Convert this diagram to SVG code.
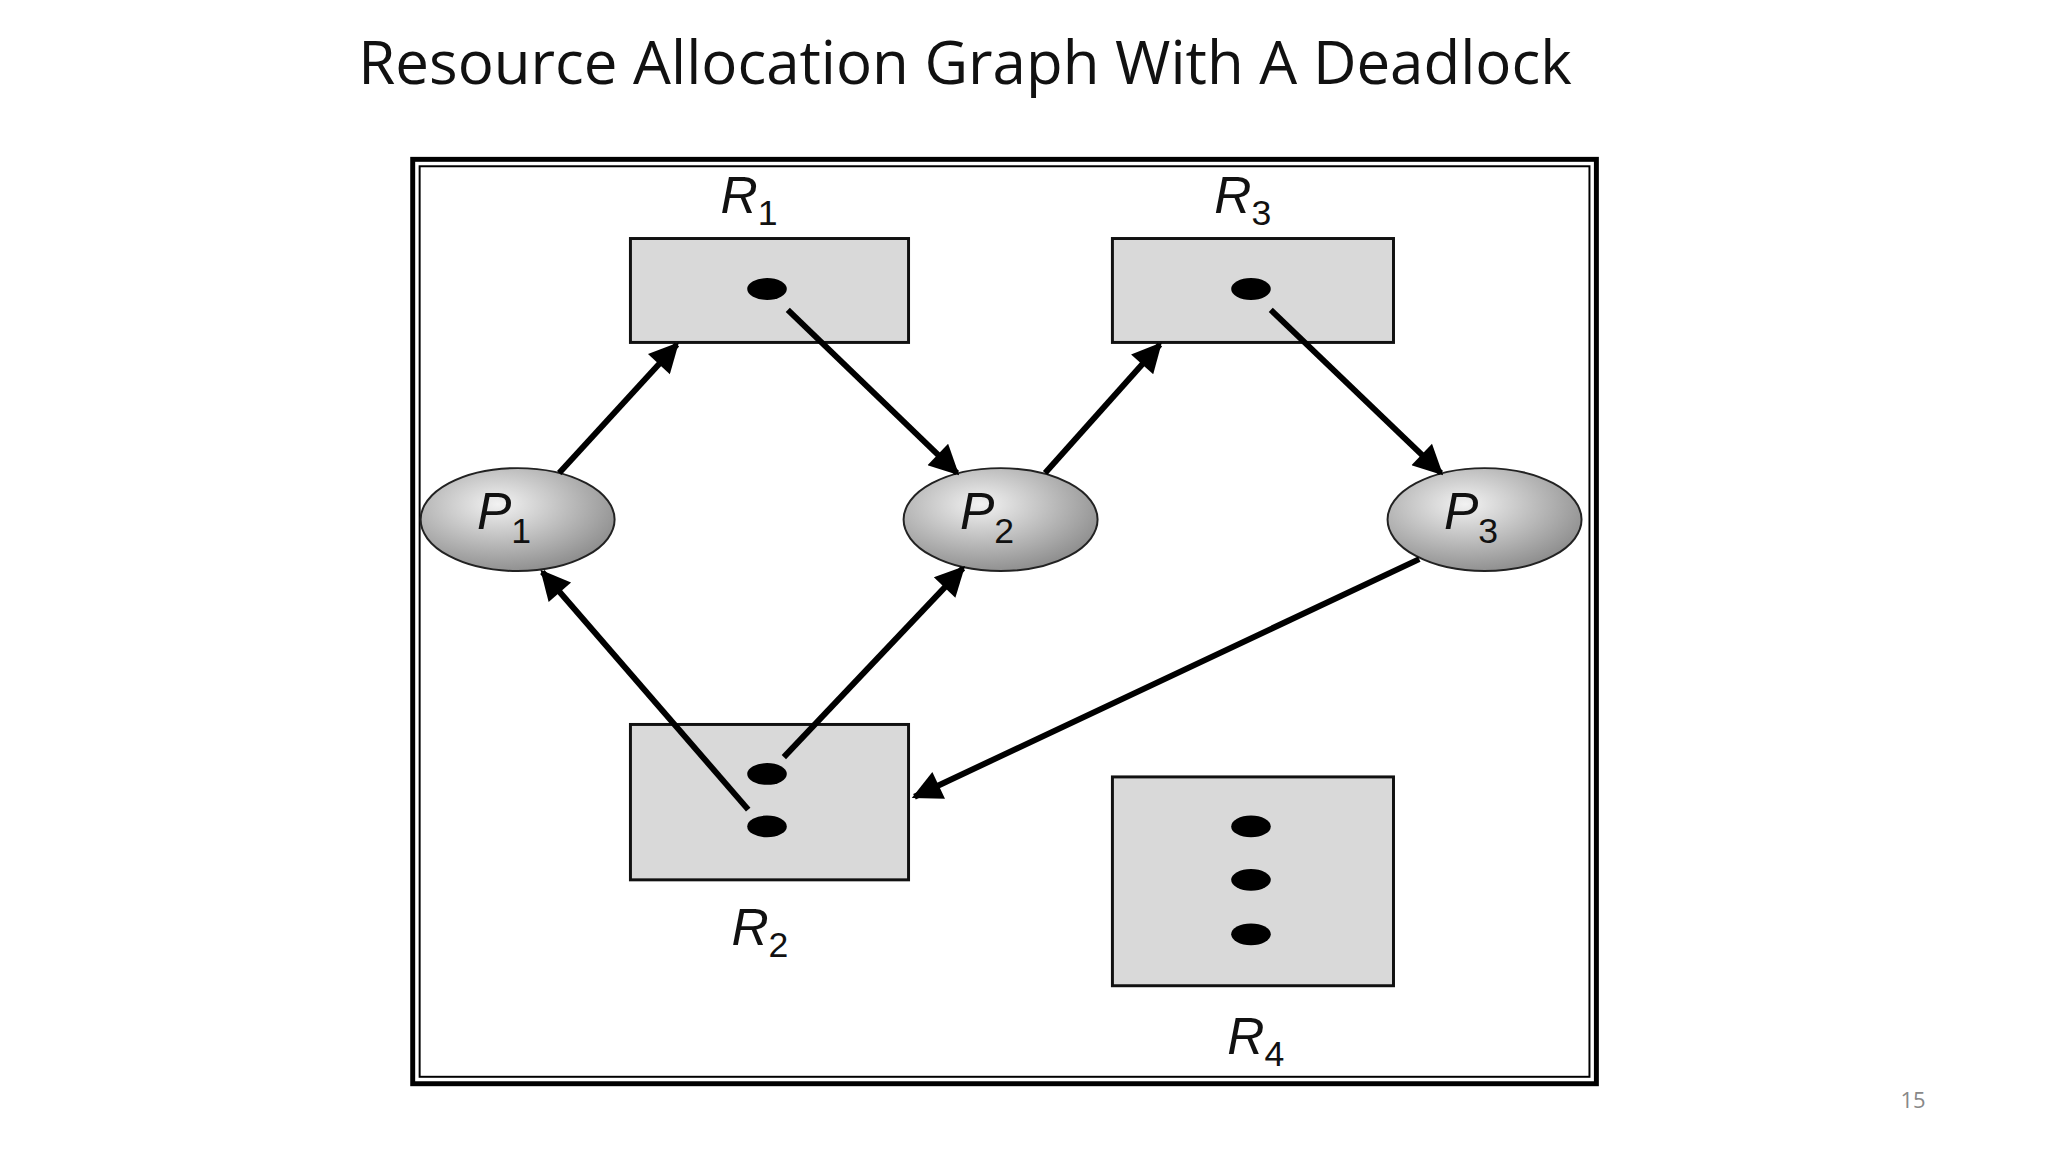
<svg xmlns="http://www.w3.org/2000/svg" width="2048" height="1155" viewBox="0 0 2048 1155">
<style>
.res{fill:#d9d9d9;stroke:#111;stroke-width:3}
.dot{fill:#000}
.lbl{font-family:"Liberation Sans",Arial,sans-serif;font-style:italic;font-size:52px;fill:#111}
.sub{font-size:36px;font-style:normal}
.edge{stroke:#000;stroke-width:6;fill:none;marker-end:url(#ah)}
</style>
<defs>
<marker id="ah" viewBox="0 0 10 10" refX="9" refY="5" markerWidth="6" markerHeight="5" orient="auto" markerUnits="strokeWidth"><path d="M0,0 L10,5 L0,10 Z" fill="#000"/></marker>
<radialGradient id="pg" cx="0.4" cy="0.35" r="0.7"><stop offset="0" stop-color="#f2f2f2"/><stop offset="1" stop-color="#8a8a8a"/></radialGradient>
</defs>
<rect width="2048" height="1155" fill="#fff"/>
<text x="965" y="84" text-anchor="middle" font-family="Open Sans,Liberation Sans,sans-serif" font-size="60" fill="#111">Resource Allocation Graph With A Deadlock</text>
<g transform="scale(0.9897)">
<rect x="417" y="161" width="1196" height="934" fill="#fff" stroke="#000" stroke-width="5"/>
<rect x="424" y="168" width="1182" height="920" fill="none" stroke="#000" stroke-width="2"/>
<g id="R1"><rect class="res" x="637" y="241" width="281" height="105"/><ellipse class="dot" cx="775" cy="292" rx="20" ry="11"/><text class="lbl" x="728" y="215">R<tspan class="sub" dy="12">1</tspan></text></g>
<g id="R3"><rect class="res" x="1124" y="241" width="284" height="105"/><ellipse class="dot" cx="1264" cy="292" rx="20" ry="11"/><text class="lbl" x="1227" y="215">R<tspan class="sub" dy="12">3</tspan></text></g>
<g id="R2"><rect class="res" x="637" y="732" width="281" height="157"/><ellipse class="dot" cx="775" cy="782" rx="20" ry="11"/><ellipse class="dot" cx="775" cy="835" rx="20" ry="11"/><text class="lbl" x="739" y="955">R<tspan class="sub" dy="12">2</tspan></text></g>
<g id="R4"><rect class="res" x="1124" y="785" width="284" height="211"/><ellipse class="dot" cx="1264" cy="835" rx="20" ry="11"/><ellipse class="dot" cx="1264" cy="889" rx="20" ry="11"/><ellipse class="dot" cx="1264" cy="944" rx="20" ry="11"/><text class="lbl" x="1240" y="1065">R<tspan class="sub" dy="12">4</tspan></text></g>
<g id="P1"><ellipse cx="523" cy="525" rx="98" ry="52" fill="url(#pg)" stroke="#222" stroke-width="2"/><text class="lbl" x="482" y="535">P<tspan class="sub" dy="14">1</tspan></text></g>
<g id="P2"><ellipse cx="1011" cy="525" rx="98" ry="52" fill="url(#pg)" stroke="#222" stroke-width="2"/><text class="lbl" x="970" y="535">P<tspan class="sub" dy="14">2</tspan></text></g>
<g id="P3"><ellipse cx="1500" cy="525" rx="98" ry="52" fill="url(#pg)" stroke="#222" stroke-width="2"/><text class="lbl" x="1459" y="535">P<tspan class="sub" dy="14">3</tspan></text></g>
<g id="edges">
<line class="edge" x1="565" y1="478" x2="684" y2="348"/>
<line class="edge" x1="796" y1="313" x2="967" y2="478"/>
<line class="edge" x1="1056" y1="478" x2="1172" y2="348"/>
<line class="edge" x1="1284" y1="313" x2="1456" y2="478"/>
<line class="edge" x1="1434" y1="565" x2="924" y2="805"/>
<line class="edge" x1="756" y1="818" x2="548" y2="578"/>
<line class="edge" x1="792" y1="765" x2="973" y2="574"/>
</g>
</g>
<text x="1913" y="1108" text-anchor="middle" font-family="Open Sans,Liberation Sans,sans-serif" font-size="22" fill="#888">15</text>
</svg>
